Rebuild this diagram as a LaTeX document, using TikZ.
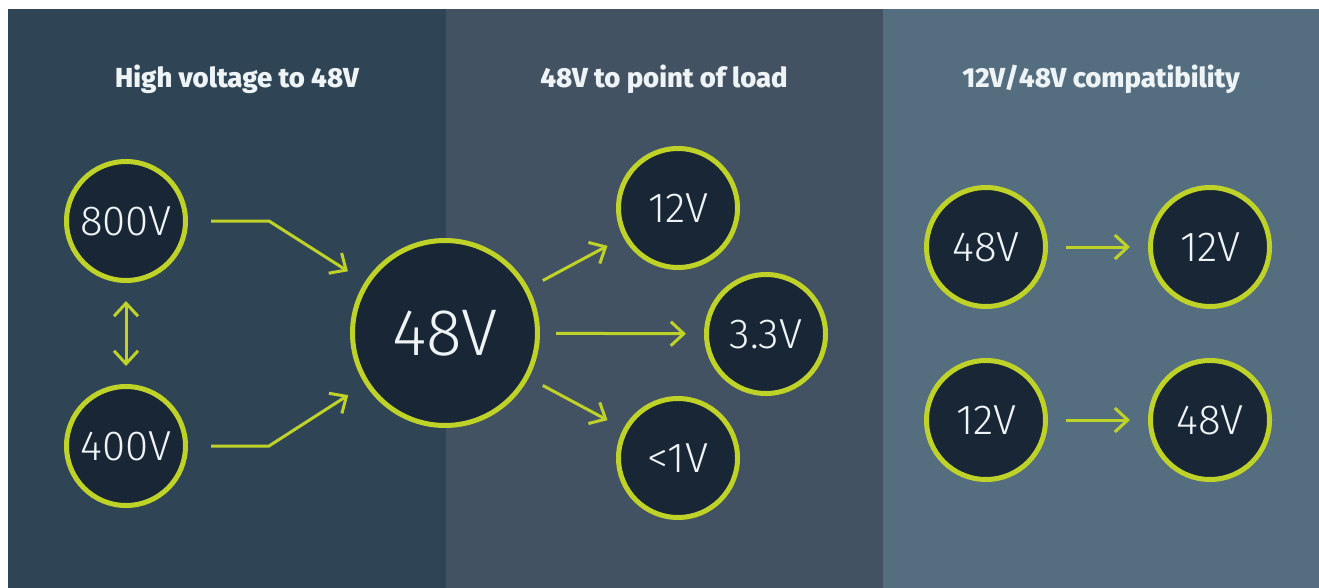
\documentclass[tikz,border=0pt]{standalone}
\usepackage{fontspec}
\setmainfont{Fira Sans}
\newfontfamily\lightfont{Fira Sans Light}
\newfontfamily\headfont{Fira Sans ExtraBold}
\usetikzlibrary{arrows.meta}

\begin{document}
\begin{tikzpicture}[x=1pt,y=-1pt,
    volt/.style={circle, draw=ring, fill=dot, line width=5pt, minimum size=119pt,
      inner sep=0pt, text=txt, font=\lightfont\fontsize{42}{42}\selectfont},
    bigvolt/.style={volt, minimum size=185pt, font=\lightfont\fontsize{66}{66}\selectfont},
    head/.style={anchor=base, text=txt, font=\headfont\fontsize{27.5}{27.5}\selectfont},
    flow/.style={draw=ring, line width=3pt, -{Straight Barb[length=13pt,width=24pt]},
      shorten <=18pt, shorten >=18pt}]
    \definecolor{paneA}{HTML}{2F4556}
    \definecolor{paneB}{HTML}{435262}
    \definecolor{paneC}{HTML}{546E80}
    \definecolor{dot}{HTML}{182635}
    \definecolor{ring}{HTML}{BED228}
    \definecolor{txt}{HTML}{EEF3F5}
    \useasboundingbox (0,0) rectangle (1319,588);  %weisser Rand oben und links
    \fill[paneA] (8,9) rectangle (446,588);  %linke Spalte
    \fill[paneB] (446,9) rectangle (883,588);  %mittlere Spalte
    \fill[paneC] (883,9) rectangle (1319,588);  %rechte Spalte
    \foreach \x/\titel in {237/High voltage to 48V, 664/48V to point of load, 1101/12V\slash 48V compatibility}
      \node[head] at (\x,88) {\titel};  %Ueberschriften
    \node[bigvolt] (hv) at (445,333) {48V};  %zentraler Kreis
    \foreach \name/\x/\y/\volt in
    {
      v800/126/221/800V,  %Hochvolt
      v400/126/446/400V,
      p12/678/208/12V,  %Lastpunkte
      p33/766/334/3.3V,
      p1/678/458/<1V,
      a48/986/247/48V,  %Kompatibilitaet
      a12/1210/247/12V,
      b12/986/420/12V,
      b48/1210/420/48V
    }
      \node[volt] (\name) at (\x,\y) {\volt};
    \draw[flow, shorten <=0pt, shorten >=20pt] (v800.east) ++(23pt,0) -- ++(58pt,0) -- (hv);  %800V zu 48V
    \draw[flow, shorten <=0pt, shorten >=20pt] (v400.east) ++(23pt,0) -- ++(58pt,0) -- (hv);  %400V zu 48V
    \draw[flow, {Straight Barb[length=13pt,width=24pt]}-{Straight Barb[length=13pt,width=24pt]}] (v800) -- (v400);
    \foreach \ziel in {p12,p33,p1}
      \draw[flow, shorten <=16pt] (hv) -- (\ziel);  %48V zu den Lasten
    \foreach \a/\b in {a48/a12, b12/b48}
      \draw[flow] (\a) -- (\b);
\end{tikzpicture}
\end{document}
